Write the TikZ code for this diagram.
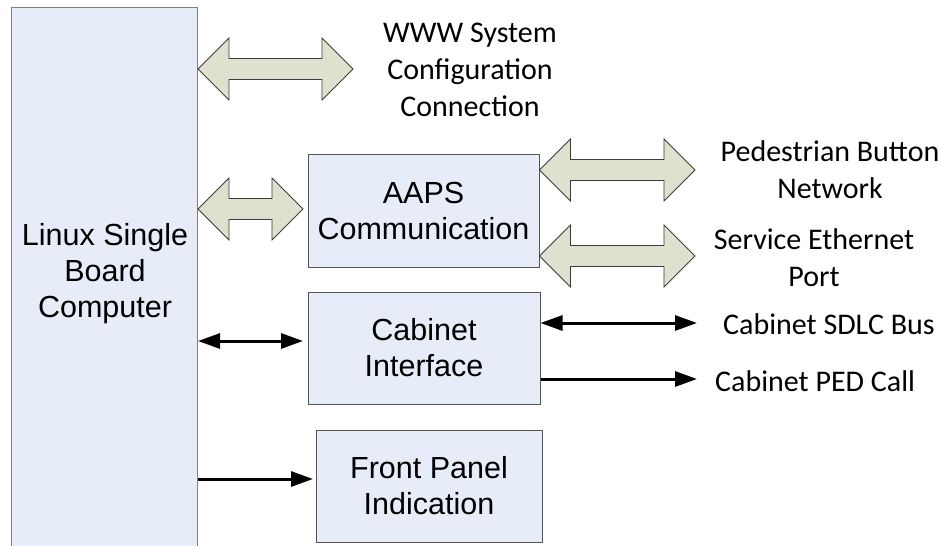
\documentclass[tikz,border=0pt]{standalone}
\usepackage{fontspec}
\setmainfont{Liberation Sans}
\newfontfamily\labelfont{Carlito}
\usetikzlibrary{arrows.meta, positioning, calc}
\definecolor{boxfill}{RGB}{231,237,248}
\definecolor{boxline}{RGB}{85,85,85}
\definecolor{busfill}{RGB}{222,225,205}
\definecolor{busline}{RGB}{60,60,60}

\begin{document}
\begin{tikzpicture}[x=1pt, y=-1pt,
      block/.style={rectangle, draw=boxline, fill=boxfill, line width=1pt, inner sep=0pt, align=center, font=\fontsize{30.5}{36}\selectfont},
      blocktext/.style={inner sep=0pt, align=center, font=\fontsize{30.5}{36}\selectfont},
      lbl/.style={inner sep=0pt, align=center, font=\labelfont\fontsize{30}{37}\selectfont},
      bus/.style={draw=busline, fill=busfill, line width=0.8pt, line join=miter,
        to path={let \p1=(\tikztostart), \p2=(\tikztotarget) in
          (\x1,\y1) -- (\x1+31pt,\y1+31pt) -- (\x1+31pt,\y1+10.5pt) -- (\x2-31pt,\y1+10.5pt)
          -- (\x2-31pt,\y1+31pt) -- (\x2,\y1) -- (\x2-31pt,\y1-31pt) -- (\x2-31pt,\y1-10.5pt)
          -- (\x1+31pt,\y1-10.5pt) -- (\x1+31pt,\y1-31pt) -- cycle}},
      arrow/.style={line width=3pt, -{Triangle[length=22pt,width=15pt]}},
      darrow/.style={line width=3pt, {Triangle[length=22pt,width=15pt]}-{Triangle[length=22pt,width=15pt]}}
    ]
    \clip (0,0) rectangle (948,546);

    % Blocks
    \node[block, draw=gray, anchor=north west, minimum width=186pt, minimum height=560pt] (lsbc) at (11,7) {};
    \node[blocktext] (lsbclabel) at (105,274) {Linux Single\\Board\\Computer};
    \node[block, minimum width=231pt, minimum height=113pt] (aaps) at (423.5,210.5) {AAPS\\Communication};
    \node[block, minimum width=232pt, minimum height=112pt] (cab) at (424,348) {Cabinet\\Interface};
    \node[block, minimum width=226pt, minimum height=112pt] (front) at (429,486) {Front Panel\\Indication};

    % Labels
    \node[lbl] (www) at (470,70) {WWW System\\Configuration\\Connection};
    \node[lbl] (ped) at (830,170) {Pedestrian Button\\Network};
    \node[lbl] (eth) at (814,258) {Service Ethernet\\Port};
    \node[lbl, anchor=west] (sdlc) at (723,324) {Cabinet SDLC Bus};
    \node[lbl, anchor=west] (pedcall) at (715,381) {Cabinet PED Call};

    % Free ends
    \coordinate (wwwend) at (353,69);
    \coordinate (aapsin) at (303,209);
    \coordinate (pedend) at (695,170);
    \coordinate (ethend) at (695,256);
    \coordinate (cabin) at (303,341);
    \coordinate (sdlcend) at (697,323);
    \coordinate (callend) at (697,379);
    \coordinate (frontin) at (313,479);

    % Buses
    \draw[bus] (lsbc.east |- wwwend) to (wwwend);
    \draw[bus] (lsbc.east |- aapsin) to (aapsin);
    \draw[bus] (aaps.east |- pedend) to (pedend);
    \draw[bus] (aaps.east |- ethend) to (ethend);

    % Signals
    \draw[darrow] (lsbc.east |- cabin) -- (cabin);
    \draw[darrow] (cab.east |- sdlcend) -- (sdlcend);
    \draw[arrow] (cab.east |- callend) -- (callend);
    \draw[arrow] (lsbc.east |- frontin) -- (frontin);
  \end{tikzpicture}
\end{document}
